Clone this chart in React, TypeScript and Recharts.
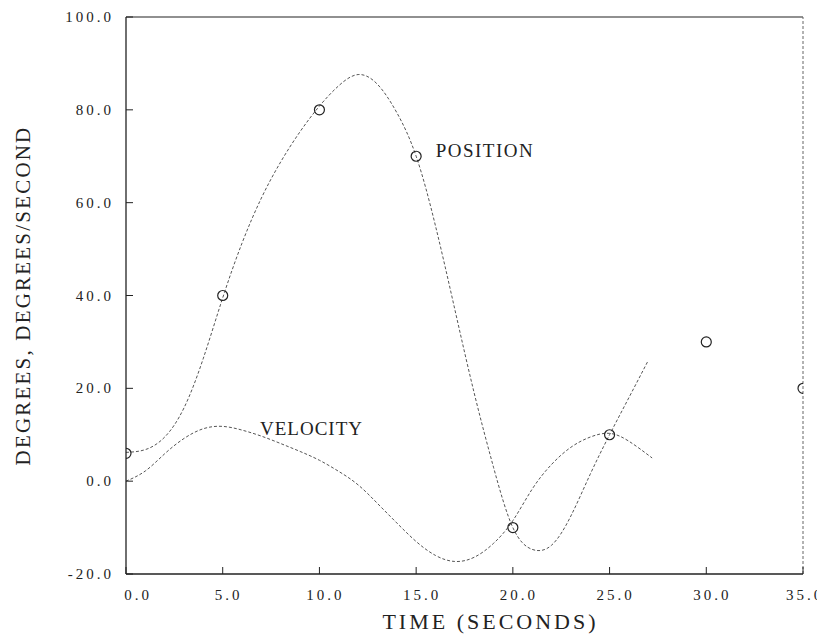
import React from 'react';
import {
  ComposedChart,
  Line,
  Scatter,
  XAxis,
  YAxis,
  ReferenceLine,
  ReferenceDot,
} from 'recharts';

// Sampled curve values (time in seconds)
const positionTimes = [0, 1, 2, 3, 4, 5, 6, 7, 8, 9, 10, 11, 12, 13, 14, 15, 16, 17, 18, 19, 20, 21, 22, 23, 24, 25, 26, 27];
const positionValues = [6.2, 6.8, 9.5, 15.8, 26.5, 39.5, 51.3, 61, 68.8, 75.3, 80.8, 85.2, 87.6, 85.5, 79.4, 70, 55, 37, 19, 3, -10, -14.7, -13.8, -7.5, 1.5, 10, 18, 26];

const velocityTimes = [0, 1, 2, 3, 4, 5, 6, 7, 8, 9, 10, 11, 12, 13, 14, 15, 16, 17, 18, 19, 20, 21, 22, 23, 24, 25, 26, 27.2];
const velocityValues = [0, 2.2, 5.9, 9.2, 11.3, 11.8, 11, 9.7, 8.1, 6.4, 4.5, 2.1, -0.8, -4.8, -9, -13, -16, -17.3, -16.4, -13.4, -8.5, -1.7, 3.6, 7.3, 9.5, 10.3, 8.6, 5];

// Measured positions (circles)
const markerTimes = [0, 5, 10, 15, 20, 25, 30, 35];
const markerValues = [6, 40, 80, 70, -10, 10, 30, 20];

const xTicks = [0, 5, 10, 15, 20, 25, 30, 35];
const yTicks = [-20, 0, 20, 40, 60, 80, 100];

const positionData = positionTimes.map((t, i) => ({ t, v: positionValues[i] }));
const velocityData = velocityTimes.map((t, i) => ({ t, v: velocityValues[i] }));
const markerData = markerTimes.map((t, i) => ({ t, v: markerValues[i] }));

const FONT = 'Liberation Serif, DejaVu Serif, serif';

const XTick = (props: any) => {
  const { x, y, payload } = props;
  const dx = payload.value === 0 ? 12 : payload.value === 35 ? 2 : 6;
  return (
    <text
      x={x + dx}
      y={y}
      dy={12}
      textAnchor="middle"
      fontFamily={FONT}
      style={{ fontFamily: FONT }}
      fontSize={15}
      letterSpacing={3}
      fill="#222"
    >
      {payload.value.toFixed(1)}
    </text>
  );
};

const YTick = (props: any) => {
  const { x, y, payload } = props;
  return (
    <text
      x={x + 2}
      y={y}
      dy={5}
      textAnchor="end"
      fontFamily={FONT}
      style={{ fontFamily: FONT }}
      fontSize={15}
      letterSpacing={3}
      fill="#222"
    >
      {payload.value.toFixed(1)}
    </text>
  );
};

const Ring = (props: any) => {
  const { cx, cy } = props;
  return <circle cx={cx} cy={cy} r={5} fill="none" stroke="#222" strokeWidth={1.2} />;
};

export default function App() {
  return (
    <ComposedChart
      width={825}
      height={635}
      margin={{ top: 9, right: 30, bottom: 29, left: 0 }}
      style={{ fontFamily: FONT }}
    >
      <XAxis
        dataKey="t"
        type="number"
        domain={[0, 35]}
        ticks={xTicks}
        allowDataOverflow
        height={40}
        tickSize={-7}
        tickMargin={21}
        tick={<XTick />}
        axisLine={{ stroke: '#222', strokeWidth: 1.3 }}
        tickLine={{ stroke: '#222' }}
        label={{
          value: 'TIME (SECONDS)',
          position: 'center',
          dx: 26,
          dy: 27,
          fontFamily: FONT,
          fontSize: 22,
          letterSpacing: 3,
          fill: '#222',
        }}
      />
      <YAxis
        dataKey="v"
        type="number"
        domain={[-20, 100]}
        ticks={yTicks}
        allowDataOverflow
        width={118}
        tickSize={-7}
        tickMargin={21}
        tick={<YTick />}
        axisLine={{ stroke: '#222', strokeWidth: 1.3 }}
        tickLine={{ stroke: '#222' }}
        label={{
          value: 'DEGREES, DEGREES/SECOND',
          position: 'center',
          angle: -90,
          dx: -44,
          fontFamily: FONT,
          fontSize: 21,
          letterSpacing: 2.2,
          fill: '#222',
        }}
      />
      <ReferenceLine y={100} stroke="#222" strokeWidth={1.2} />
      <ReferenceLine x={35} stroke="#666" strokeWidth={1} strokeDasharray="3 2" />
      <Line
        data={positionData}
        dataKey="v"
        type="natural"
        stroke="#555"
        strokeWidth={1}
        strokeDasharray="3 2"
        dot={false}
        activeDot={false}
        isAnimationActive={false}
      />
      <Line
        data={velocityData}
        dataKey="v"
        type="natural"
        stroke="#555"
        strokeWidth={1}
        strokeDasharray="3 2"
        dot={false}
        activeDot={false}
        isAnimationActive={false}
      />
      <Scatter data={markerData} dataKey="v" shape={<Ring />} isAnimationActive={false} />
      <ReferenceDot
        x={15.75}
        y={71.3}
        r={0}
        fill="none"
        stroke="none"
        label={{ value: 'POSITION', position: 'right', offset: 5, fontFamily: FONT, fontSize: 19, letterSpacing: 1.5, fill: '#222' }}
      />
      <ReferenceDot
        x={6.67}
        y={11.4}
        r={0}
        fill="none"
        stroke="none"
        label={{ value: 'VELOCITY', position: 'right', offset: 5, fontFamily: FONT, fontSize: 19, letterSpacing: 1, fill: '#222' }}
      />
    </ComposedChart>
  );
}
